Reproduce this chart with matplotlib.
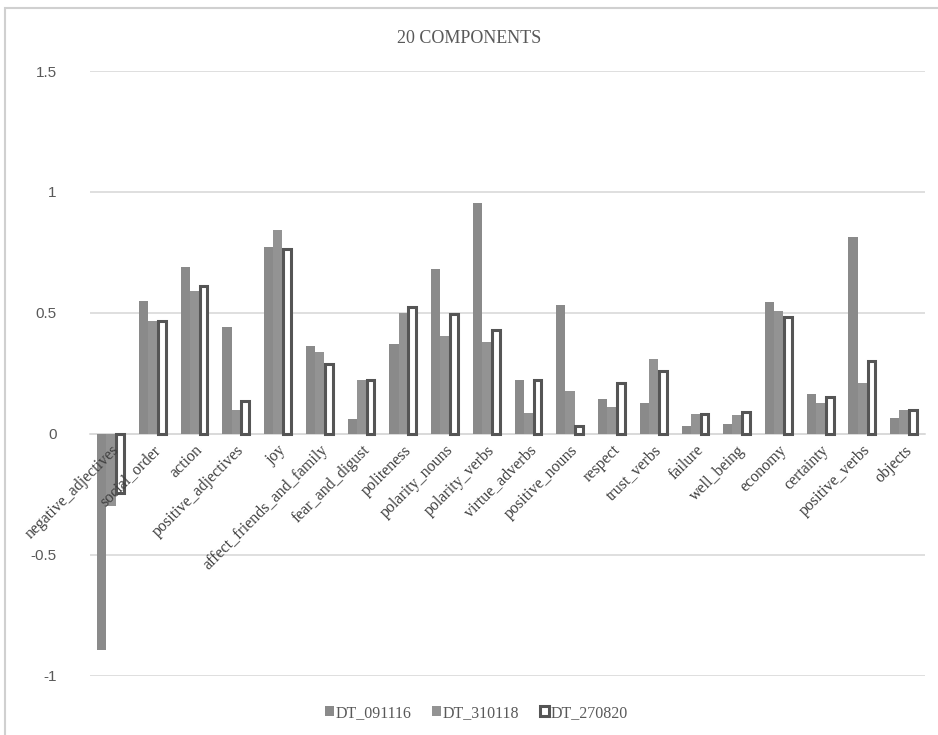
import numpy as np
import matplotlib.pyplot as plt
from matplotlib.patches import Rectangle

categories = ['negative_adjectives', 'social_order', 'action', 'positive_adjectives', 'joy',
              'affect_friends_and_family', 'fear_and_digust', 'politeness', 'polarity_nouns',
              'polarity_verbs', 'virtue_adverbs', 'positive_nouns', 'respect', 'trust_verbs',
              'failure', 'well_being', 'economy', 'certainty', 'positive_verbs', 'objects']

dt_091116 = [-0.893, 0.551, 0.689, 0.442, 0.774, 0.364, 0.061, 0.372, 0.680, 0.953,
             0.223, 0.532, 0.146, 0.127, 0.033, 0.041, 0.544, 0.164, 0.815, 0.065]
dt_310118 = [-0.298, 0.468, 0.592, 0.099, 0.843, 0.338, 0.223, 0.501, 0.405, 0.381,
             0.088, 0.179, 0.113, 0.310, 0.084, 0.079, 0.508, 0.127, 0.209, 0.099]
dt_270820 = [-0.243, 0.467, 0.612, 0.135, 0.764, 0.291, 0.224, 0.525, 0.496, 0.431,
             0.223, 0.033, 0.211, 0.260, 0.081, 0.090, 0.485, 0.153, 0.300, 0.099]

yticks = [-1, -0.5, 0, 0.5, 1, 1.5]
ytick_labels = ['-1', '-0.5', '0', '0.5', '1', '1.5']

serif = 'Liberation Serif'
txt_gray = '#595959'

fig = plt.figure(figsize=(9.38, 7.35), dpi=100)
ax = fig.add_axes([0.096, 0.0803, 0.89, 0.8231])

x = np.arange(len(categories))
w = 0.22
ax.bar(x - w, dt_091116, w, color='#8a8a8a', label='DT_091116', zorder=2)
ax.bar(x, dt_310118, w, color='#939393', label='DT_310118', zorder=2)
ax.bar(x + w, dt_270820, w * 0.85, color='white', edgecolor='#555555', linewidth=2.2,
       label='DT_270820', zorder=2)

ax.set_xlim(-0.5, len(categories) - 0.5)
ax.set_ylim(-1, 1.5)
ax.set_yticks(yticks)
ax.set_yticklabels(ytick_labels, family='Liberation Sans', fontsize=11, color=txt_gray)
ax.yaxis.grid(True, color='#d9d9d9', linewidth=1.2)
ax.yaxis.set_zorder(0.5)
ax.tick_params(axis='y', length=0, pad=24)

# category labels sit on the zero line, drawn over the bars
ax.spines['bottom'].set_position(('data', 0))
ax.spines['bottom'].set_color('#d9d9d9')
ax.spines['bottom'].set_linewidth(1.2)
ax.spines['bottom'].set_zorder(1)
for s in ['top', 'right', 'left']:
    ax.spines[s].set_visible(False)
ax.set_xticks(x)
ax.set_xticklabels(categories, rotation=45, ha='right', rotation_mode='anchor',
                   family=serif, fontsize=11.5, color='#404040')
ax.xaxis.set_zorder(5)
ax.tick_params(axis='x', length=0, pad=6)

fig.text(0.5, 0.948, '20 COMPONENTS', ha='center', va='center', family=serif,
         fontsize=13, color=txt_gray)

leg = fig.legend(loc='center', bbox_to_anchor=(0.508, 0.03), ncol=3, frameon=False,
                 prop={'family': serif, 'size': 11.5}, handlelength=0.55, handleheight=0.55,
                 handletextpad=0.1, columnspacing=1.3)
for t in leg.get_texts():
    t.set_color(txt_gray)

# chart frame
fig.patches.append(Rectangle((0.005, -0.01), 1.0, 0.999, transform=fig.transFigure,
                             fill=False, edgecolor='#d0d0d0', linewidth=1.5))

fig.savefig('out.png', dpi=100)
